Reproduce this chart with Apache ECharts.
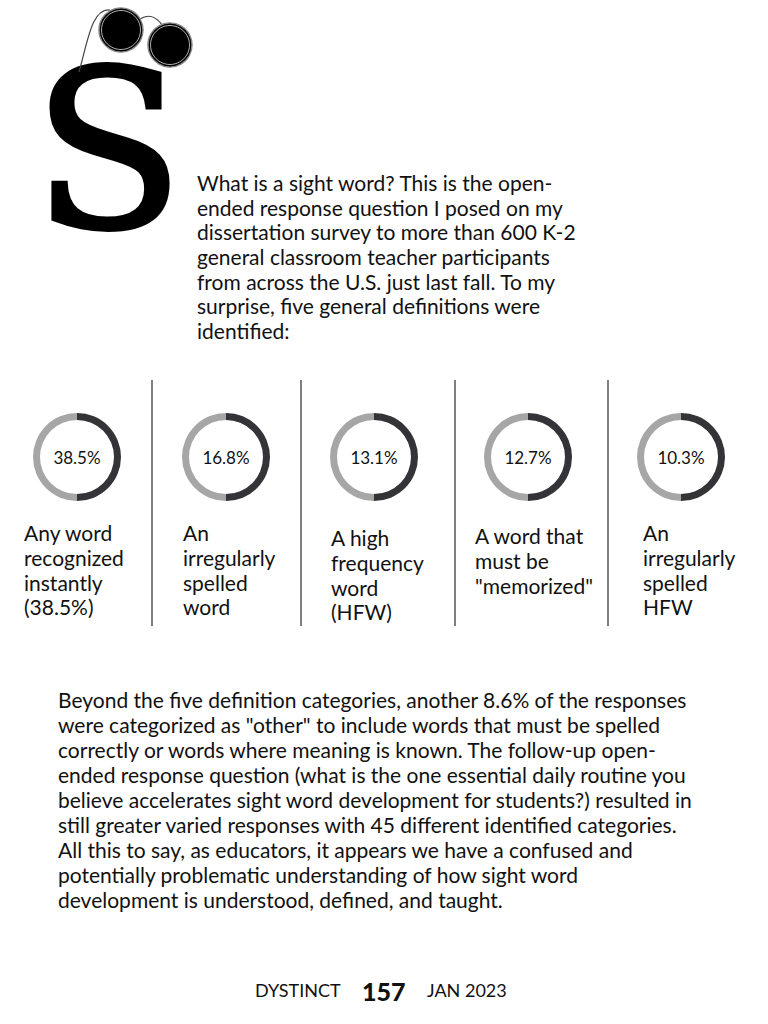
<!DOCTYPE html>
<html>
<head>
<meta charset="utf-8">
<script src="https://cdn.jsdelivr.net/npm/echarts@6/dist/echarts.min.js"></script>
<style>
html,body{margin:0;padding:0;background:#fff;}
#chart{width:768px;height:1024px;}
</style>
</head>
<body>
<div id="chart"></div>
<script>
// ---- data ----
var percentages = [38.5, 16.8, 13.1, 12.7, 10.3];
// dark share of each ring, as drawn in the picture (every ring is half dark)
var darkArc = [50, 50, 50, 50, 50];
var categoryLines = [
  ["Any word", "recognized", "instantly", "(38.5%)"],
  ["An", "irregularly", "spelled", "word"],
  ["A high", "frequency", "word", "(HFW)"],
  ["A word that", "must be", "\"memorized\""],
  ["An", "irregularly", "spelled", "HFW"]
];
var introLines = [
  "What is a sight word? This is the open-",
  "ended response question I posed on my",
  "dissertation survey to more than 600 K-2",
  "general classroom teacher participants",
  "from across the U.S. just last fall. To my",
  "surprise, five general definitions were",
  "identified:"
];
var outroLines = [
  "Beyond the five definition categories, another 8.6% of the responses",
  "were categorized as \"other\" to include words that must be spelled",
  "correctly or words where meaning is known. The follow-up open-",
  "ended response question (what is the one essential daily routine you",
  "believe accelerates sight word development for students?) resulted in",
  "still greater varied responses with 45 different identified categories.",
  "All this to say, as educators, it appears we have a confused and",
  "potentially problematic understanding of how sight word",
  "development is understood, defined, and taught."
];
var footerMagazine = "DYSTINCT";
var footerPage = "157";
var footerDate = "JAN 2023";

// ---- layout ----
var ringCentersX = [77, 226, 374, 528, 681];
var ringCenterY = 457;
var labelX = [24, 183, 331, 475, 643];
var labelY0 = [533, 533, 538, 536, 533];
var dividerX = [152, 301, 455, 608];
var DARK = '#333338', LIGHT = '#a6a6a6';
var FONT = 'Lato, "Open Sans", sans-serif';

var series = percentages.map(function (p, i) {
  return {
    type: 'pie',
    center: [ringCentersX[i], ringCenterY],
    radius: [37, 44],
    startAngle: 90,
    clockwise: true,
    silent: true,
    avoidLabelOverlap: false,
    labelLine: {show: false},
    emphasis: {disabled: true},
    data: [
      {value: darkArc[i], itemStyle: {color: DARK},
       label: {show: true, position: 'center', formatter: p.toFixed(1) + '%',
               color: '#111', fontSize: 17, fontFamily: FONT}},
      {value: 100 - darkArc[i], itemStyle: {color: LIGHT}, label: {show: false}}
    ]
  };
});

var graphics = [];
// big S
graphics.push({type: 'text', x: 33, y: 41, z: 10,
  style: {text: 'S', font: '220px "DejaVu Serif", serif', fill: '#000',
          stroke: '#000', lineWidth: 4}});
// glasses
graphics.push({type: 'bezierCurve', z: 11,
  shape: {x1: 79, y1: 72, x2: 110, y2: 10, cpx1: 88, cpy1: 40, cpx2: 92, cpy2: 8},
  style: {stroke: '#444', lineWidth: 1.2, fill: null}});
graphics.push({type: 'bezierCurve', z: 11,
  shape: {x1: 140, y1: 19, x2: 162, y2: 25, cpx1: 148, cpy1: 14, cpx2: 156, cpy2: 16},
  style: {stroke: '#444', lineWidth: 1.2, fill: null}});
[[121, 30], [170, 45]].forEach(function (c) {
  graphics.push({type: 'circle', z: 12, shape: {cx: c[0], cy: c[1], r: 22},
    style: {fill: '#000', stroke: '#888', lineWidth: 1.5}});
  graphics.push({type: 'circle', z: 13, shape: {cx: c[0], cy: c[1], r: 19.5},
    style: {fill: null, stroke: '#ddd', lineWidth: 0.8}});
});
// intro paragraph
graphics.push({type: 'text', x: 197, y: 170,
  style: {text: introLines.join('\n'), font: '21px ' + FONT, fill: '#111', lineHeight: 24.7}});
// dividers
dividerX.forEach(function (x) {
  graphics.push({type: 'line', shape: {x1: x, y1: 380, x2: x, y2: 626},
    style: {stroke: '#555', lineWidth: 1.5}});
});
// category labels
categoryLines.forEach(function (lines, i) {
  graphics.push({type: 'text', x: labelX[i], y: labelY0[i] - 13,
    style: {text: lines.join('\n'), font: '21px ' + FONT, fill: '#111', lineHeight: 24.8}});
});
// outro paragraph
graphics.push({type: 'text', x: 58, y: 687,
  style: {text: outroLines.join('\n'), font: '21px ' + FONT, fill: '#111', lineHeight: 25}});
// footer
graphics.push({type: 'text', x: 255, y: 990,
  style: {text: footerMagazine, font: '18px ' + FONT, fill: '#111', verticalAlign: 'middle'}});
graphics.push({type: 'text', x: 362, y: 991,
  style: {text: footerPage, font: '900 25px ' + FONT, fill: '#111', verticalAlign: 'middle'}});
graphics.push({type: 'text', x: 427, y: 990,
  style: {text: footerDate, font: '18px ' + FONT, fill: '#111', verticalAlign: 'middle'}});

var chart = echarts.init(document.getElementById('chart'), null, {renderer: 'svg'});
chart.setOption({
  backgroundColor: '#fff',
  animation: false,
  series: series,
  graphic: graphics
});
</script>
</body>
</html>
